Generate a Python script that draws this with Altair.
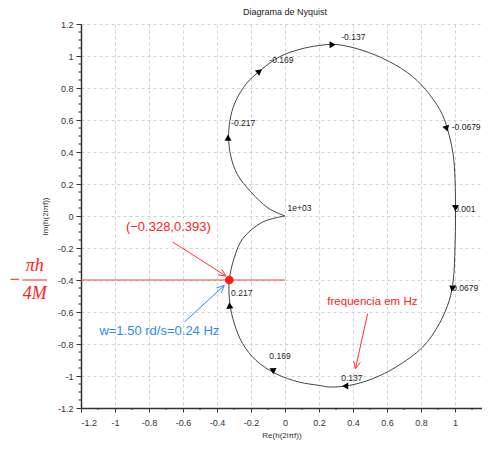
import altair as alt
import pandas as pd
import math

# ---------------- data ----------------
# Nyquist curve (Re, Im), in drawing order (f = -1e3 ... 0 ... +1e3)
curve_re = [0.0, -0.1, -0.2, -0.28, -0.318, -0.332, -0.318, -0.288, -0.225,
            -0.15, -0.034, 0.084, 0.202, 0.30, 0.457, 0.614, 0.75, 0.85, 0.925,
            0.966, 0.99, 1.0, 1.003, 1.0, 0.99, 0.966, 0.908, 0.81, 0.653,
            0.515, 0.378, 0.26, 0.202, 0.084, -0.053, -0.171, -0.249, -0.298, -0.324,
            -0.328, -0.298, -0.249, -0.132, 0.0]
curve_im = [0.0, 0.05, 0.15, 0.26, 0.37, 0.50, 0.629, 0.723, 0.83,
            0.905, 0.994, 1.041, 1.066, 1.072, 1.035, 0.965, 0.872, 0.76, 0.635,
            0.504, 0.379, 0.233, 0.0, -0.194, -0.40, -0.528, -0.673, -0.819, -0.944,
            -1.017, -1.059, -1.069, -1.059, -1.038, -0.986, -0.902, -0.798, -0.673, -0.548,
            -0.402, -0.26, -0.142, -0.038, 0.0]

# direction arrows on the curve
arrow_re = [-0.335, -0.15, 0.28, 0.951, 1.003, 0.984, 0.354, -0.075, -0.326]
arrow_im = [0.49, 0.905, 1.07, 0.546, 0.05, -0.455, -1.063, -0.961, -0.56]
arrow_ang = [0, 51, 90, 162, 180, 190, 270, 297, 355]

# frequency labels (Hz)
freq_txt = ["-0.217", "-0.169", "-0.137", "-0.0679", "0.001", "1e+03",
            "0.0679", "0.137", "0.169", "0.217"]
freq_re = [-0.317, -0.092, 0.331, 0.981, 0.995, 0.015, 0.984, 0.331, -0.092, -0.317]
freq_im = [0.582, 0.978, 1.12, 0.556, 0.046, 0.05, -0.448, -1.012, -0.877, -0.479]

# highlighted point
pt_re, pt_im = -0.328, -0.40
level_im = -0.40

# annotations
ann_txt = ["(\u22120.328,0.393)", "w=1.50 rd/s=0.24 Hz", "frequencia em Hz"]
ann_re = [-0.686, -0.739, 0.514]
ann_im = [-0.067, -0.717, -0.536]
ann_col = ["#ff2020", "#3388ee", "#ff2020"]
ann_size = [13, 13, 11.5]

# annotation arrows: start -> end (arrowhead at end)
arr_x0 = [-0.661, -0.592, 0.486]
arr_y0 = [-0.1625, -0.6625, -0.611]
arr_x1 = [-0.347, -0.357, 0.414]
arr_y1 = [-0.375, -0.434, -0.955]
arr_col = ["#ff3030", "#3388ee", "#ff3030"]

ticks = [-1.2, -1.0, -0.8, -0.6, -0.4, -0.2, 0.0, 0.2, 0.4, 0.6, 0.8, 1.0, 1.2]
minor_x = [-1.1, -0.9, -0.7, -0.5, -0.3, -0.1, 0.1, 0.3, 0.5, 0.7, 0.9, 1.1]
minor_y = [round(-1.2 + 0.05 * i, 2) for i in range(49) if i % 4 != 0]

# ---------------- layout ----------------
W, H = 401, 384
PXX, PXY = 170.0, H / 2.4
XMAX = -1.2 + W / PXX
xs = alt.Scale(domain=[-1.2, XMAX], nice=False, zero=False)
ys = alt.Scale(domain=[-1.2, 1.2], nice=False, zero=False)
FONT = "Liberation Sans"

curve = pd.DataFrame({"re": curve_re, "im": curve_im, "i": range(len(curve_re))})
arrows = pd.DataFrame({"re": arrow_re, "im": arrow_im, "a": arrow_ang})
freqs = pd.DataFrame({"re": freq_re, "im": freq_im, "t": freq_txt})
ann = pd.DataFrame({"re": ann_re, "im": ann_im, "t": ann_txt, "c": ann_col, "s": ann_size})

# line segments (annotation shafts, arrowheads, level line, fraction bar)
segs = []
for x0, y0, x1, y1, c in zip(arr_x0, arr_y0, arr_x1, arr_y1, arr_col):
    segs.append((x0, y0, x1, y1, c))
    dx, dy = (x1 - x0) * PXX, (y1 - y0) * PXY
    L = math.hypot(dx, dy)
    ux, uy = dx / L, dy / L
    for s in (1, -1):
        a = math.radians(25) * s
        bx = -(ux * math.cos(a) - uy * math.sin(a)) * 8
        by = -(ux * math.sin(a) + uy * math.cos(a)) * 8
        segs.append((x1, y1, x1 + bx / PXX, y1 + by / PXY, c))
segs.append((-1.2, level_im, 0.0, level_im, "#ff4040"))
segs.append((-1.545, level_im, -1.40, level_im, "#ff2020"))
seg = pd.DataFrame(segs, columns=["x", "y", "x2", "y2", "c"])

common = dict(labelExpr="datum.value == 0 ? '0' : toString(datum.value)",
              grid=True, gridDash=[3, 3], gridColor="#d0d0d0", labelOverlap=False,
              domainColor="#333333", domainWidth=1.5, tickColor="#333333",
              labelFontSize=9, labelColor="#333333", labelFont=FONT,
              titleFontSize=8, titleFont=FONT, titleColor="#333333", titleFontWeight="normal")
xaxis = alt.Axis(values=ticks, title="Re(h(2i\u03c0f))", tickSize=4, labelPadding=6,
                 titlePadding=4, **common)
yaxis = alt.Axis(values=ticks, title="Im(h(2i\u03c0f))", tickSize=5, labelPadding=3,
                 titlePadding=8, **common)

X = lambda f: alt.X(f, type="quantitative", scale=xs, axis=xaxis)
Y = lambda f: alt.Y(f, type="quantitative", scale=ys, axis=yaxis)

line = alt.Chart(curve).mark_line(color="#444444", strokeWidth=1,
                                  interpolate="catmull-rom").encode(
    x=X("re"), y=Y("im"), order="i:Q")

mx = alt.Chart(pd.DataFrame({"v": minor_x})).mark_rule(color="#333333", strokeWidth=1).encode(
    x=X("v"), y=alt.value(H), y2=alt.value(H + 2))
my = alt.Chart(pd.DataFrame({"v": minor_y})).mark_rule(color="#333333", strokeWidth=1).encode(
    y=Y("v"), x=alt.value(-2.5), x2=alt.value(0))

rules = alt.Chart(seg).mark_rule(strokeWidth=1).encode(
    x=X("x"), y=Y("y"), x2="x2", y2="y2", color=alt.Color("c:N", scale=None))

tri = alt.Chart(arrows).mark_point(shape="triangle-up", filled=True, color="black",
                                     size=50, opacity=1).encode(
    x=X("re"), y=Y("im"), angle=alt.Angle("a:Q", scale=None))

flab = alt.Chart(freqs).mark_text(align="left", baseline="middle", fontSize=8.5,
                                  font=FONT, color="#222222").encode(
    x=X("re"), y=Y("im"), text="t:N")

dot = alt.Chart(pd.DataFrame({"re": [pt_re], "im": [pt_im]})).mark_point(
    filled=True, color="#ff1a1a", size=75, opacity=1).encode(x=X("re"), y=Y("im"))

atext = alt.Chart(ann).mark_text(align="center", baseline="middle", font=FONT).encode(
    x=X("re"), y=Y("im"), text="t:N", color=alt.Color("c:N", scale=None),
    size=alt.Size("s:Q", scale=None))

frac = alt.Chart(pd.DataFrame({"re": [-1.59, -1.472, -1.472], "im": [-0.40, -0.31, -0.49],
                               "t": ["\u2212", "\u03c0h", "4M"]})).mark_text(
    align="center", baseline="middle", font="Liberation Serif", fontStyle="italic",
    fontSize=18, color="#ff2020").encode(x=X("re"), y=Y("im"), text="t:N")

title = alt.Chart(pd.DataFrame({"t": ["Diagrama de Nyquist"]})).mark_text(
    align="center", baseline="middle", fontSize=9, font=FONT, color="#222222").encode(
    x=alt.value(1.2 * PXX), y=alt.value(-12), text="t:N")

chart = alt.layer(line, mx, my, rules, flab, tri, dot, atext, frac, title).properties(
    width=W, height=H,
    autosize=alt.AutoSizeParams(type="none"),
    padding={"left": 73, "top": 16, "right": 0, "bottom": 33},
    background="white",
).configure_view(stroke=None)

chart.save("out.html", embed_options={"renderer": "svg", "actions": False})
